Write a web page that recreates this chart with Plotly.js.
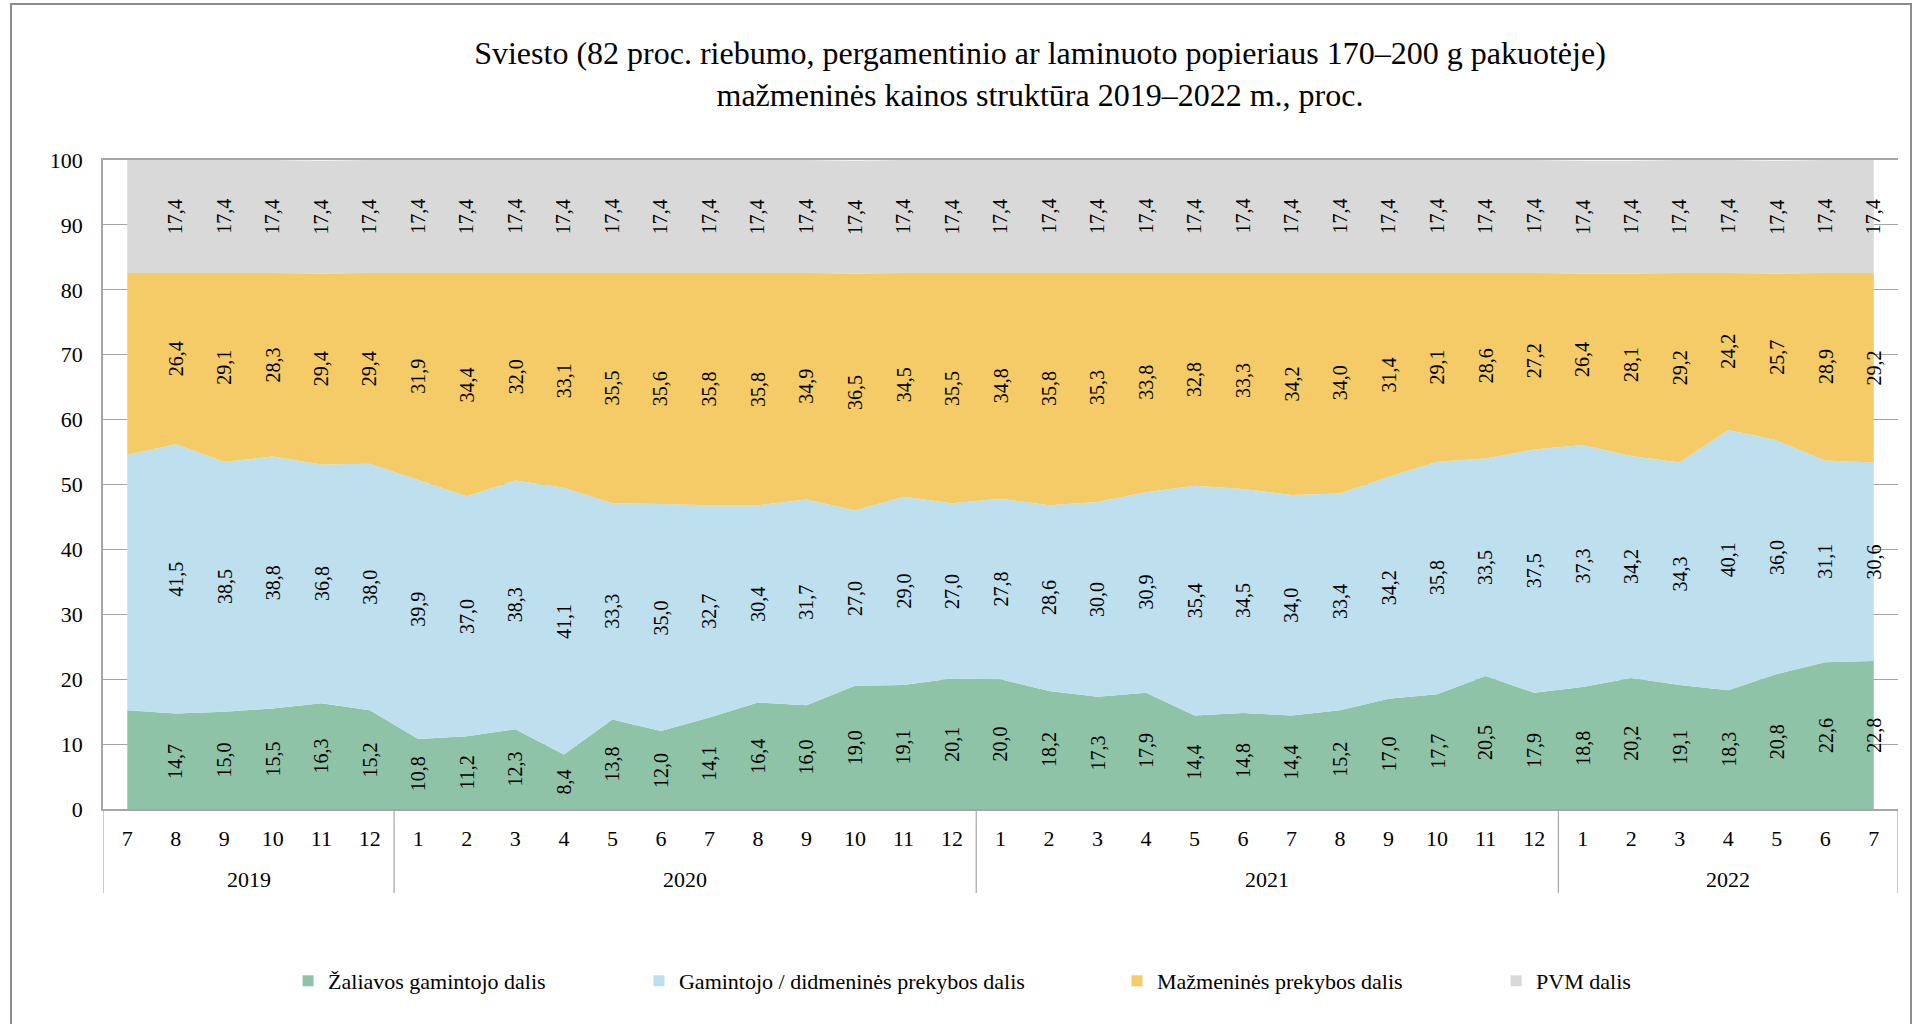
<!DOCTYPE html>
<html><head><meta charset="utf-8">
<script src="https://cdn.plot.ly/plotly-3.0.1.min.js"></script>
<style>html,body{margin:0;padding:0;background:#fff;}</style>
</head><body>
<div id="chart" style="width:1919px;height:1024px;"></div>
<script>
// Category labels (year, month)
const years = ['2019','2019','2019','2019','2019','2019',
  '2020','2020','2020','2020','2020','2020','2020','2020','2020','2020','2020','2020',
  '2021','2021','2021','2021','2021','2021','2021','2021','2021','2021','2021','2021',
  '2022','2022','2022','2022','2022','2022','2022'];
const months = ['7','8','9','10','11','12',
  '1','2','3','4','5','6','7','8','9','10','11','12',
  '1','2','3','4','5','6','7','8','9','10','11','12',
  '1','2','3','4','5','6','7'];

// Series values, %
const zaliavos = [15.2,14.7,15.0,15.5,16.3,15.2,
  10.8,11.2,12.3,8.4,13.8,12.0,14.1,16.4,16.0,19.0,19.1,20.1,
  20.0,18.2,17.3,17.9,14.4,14.8,14.4,15.2,17.0,17.7,20.5,17.9,
  18.8,20.2,19.1,18.3,20.8,22.6,22.8];
const gamintojo = [39.4,41.5,38.5,38.8,36.8,38.0,
  39.9,37.0,38.3,41.1,33.3,35.0,32.7,30.4,31.7,27.0,29.0,27.0,
  27.8,28.6,30.0,30.9,35.4,34.5,34.0,33.4,34.2,35.8,33.5,37.5,
  37.3,34.2,34.3,40.1,36.0,31.1,30.6];
const mazmenines = [28.0,26.4,29.1,28.3,29.4,29.4,
  31.9,34.4,32.0,33.1,35.5,35.6,35.8,35.8,34.9,36.5,34.5,35.5,
  34.8,35.8,35.3,33.8,32.8,33.3,34.2,34.0,31.4,29.1,28.6,27.2,
  26.4,28.1,29.2,24.2,25.7,28.9,29.2];
const pvm = [17.4,17.4,17.4,17.4,17.4,17.4,
  17.4,17.4,17.4,17.4,17.4,17.4,17.4,17.4,17.4,17.4,17.4,17.4,
  17.4,17.4,17.4,17.4,17.4,17.4,17.4,17.4,17.4,17.4,17.4,17.4,
  17.4,17.4,17.4,17.4,17.4,17.4,17.4];

const seriesNames = ['Žaliavos gamintojo dalis','Gamintojo / didmeninės prekybos dalis','Mažmeninės prekybos dalis','PVM dalis'];
const titleText = 'Sviesto (82 proc. riebumo, pergamentinio ar laminuoto popieriaus 170–200 g pakuotėje)<br>mažmeninės kainos struktūra 2019–2022 m., proc.';

const seriesValues = [zaliavos, gamintojo, mazmenines, pvm];
const colors = ['#8FC3A8','#BDDFEE','#F4CB67','#D9D9D9'];
const FONT = 'Liberation Serif, Times New Roman, serif';
const GRID = '#a6a6a6';
const legendIds = ['legend','legend2','legend3','legend4'];

const n = months.length;
const xcat = months.map((m, i) => years[i] + '/' + m);

const traces = [];
seriesValues.forEach((vals, k) => {
  traces.push({
    type: 'scatter', x: xcat, y: vals, name: seriesNames[k],
    stackgroup: 'one', mode: 'none', fillcolor: colors[k],
    line: {width: 0}, showlegend: false, hoverinfo: 'x+y+name'
  });
});
// legend swatches
seriesValues.forEach((vals, k) => {
  traces.push({
    type: 'scatter', x: [null], y: [null], name: seriesNames[k], mode: 'markers',
    marker: {symbol: 'square', size: 11, color: colors[k]},
    legend: legendIds[k], showlegend: true, hoverinfo: 'skip'
  });
});

// data labels (rotated) at middle of each stacked segment
const annotations = [];
for (let i = 1; i < n; i++) {
  let base = 0;
  seriesValues.forEach((vals) => {
    const v = vals[i];
    annotations.push({
      x: i, y: base + v / 2, xref: 'x', yref: 'y',
      text: v.toFixed(1).replace('.', ','), textangle: -90, showarrow: false,
      font: {family: FONT, size: 20, color: '#000'}
    });
    base += v;
  });
}

// year group labels and dividers
const shapes = [];
const DIV_Y = (809 - 893) / 649;
let start = 0;
for (let i = 1; i <= n; i++) {
  if (i === n || years[i] !== years[start]) {
    annotations.push({
      x: (start + i - 1) / 2, y: (809 - 879) / 649, xref: 'x', yref: 'paper',
      text: years[start], showarrow: false, yanchor: 'middle',
      font: {family: FONT, size: 22, color: '#000'}
    });
    shapes.push({type: 'line', xref: 'x', yref: 'paper', x0: start - 0.5, x1: start - 0.5, y0: 0, y1: DIV_Y,
      line: {color: GRID, width: 1.2}});
    start = i;
  }
}
shapes.push({type: 'line', xref: 'x', yref: 'paper', x0: n - 0.5, x1: n - 0.5, y0: 0, y1: DIV_Y,
  line: {color: GRID, width: 1.2}});
// outer chart border
shapes.push({type: 'rect', xref: 'paper', yref: 'paper', x0: (11-103)/1795, x1: (1911-103)/1795,
  y0: (809-1040)/649, y1: (809-4)/649, line: {color: '#8c8c8c', width: 2}, fillcolor: 'rgba(0,0,0,0)', layer: 'below'});

const legendX = [0.1031, 0.2986, 0.5649, 0.7761];
const layout = {
  width: 1919, height: 1024,
  paper_bgcolor: '#fff', plot_bgcolor: '#fff',
  margin: {l: 103, r: 21, t: 160, b: 215},
  font: {family: FONT, size: 22, color: '#000'},
  title: {text: titleText, x: 0.522, xref: 'paper', xanchor: 'center', y: 1 - 64/1024, yref: 'container', yanchor: 'top',
    font: {family: FONT, size: 32, color: '#000'}},
  xaxis: {type: 'category', range: [-0.5, n - 0.5], tickvals: xcat, ticktext: months,
    showline: true, linecolor: GRID, linewidth: 1.5, mirror: true, showgrid: false, zeroline: false, ticks: '',
    ticklabelstandoff: 9, tickangle: 0,
    tickfont: {family: FONT, size: 22, color: '#000'}, automargin: false},
  yaxis: {range: [0, 100], dtick: 10, tick0: 0, showgrid: true, gridcolor: GRID, gridwidth: 1.2, showline: true,
    linecolor: GRID, linewidth: 1.5, zeroline: false, ticks: '', ticklabelstandoff: 14,
    tickfont: {family: FONT, size: 22, color: '#000'}, automargin: false},
  annotations: annotations,
  shapes: shapes,
  hovermode: 'closest'
};
legendIds.forEach((id, k) => {
  layout[id] = {orientation: 'h', x: legendX[k], xanchor: 'left', y: -0.265, yanchor: 'middle',
    bgcolor: 'rgba(0,0,0,0)', font: {family: FONT, size: 22, color: '#000'}};
});

Plotly.newPlot('chart', traces, layout, {displayModeBar: false, responsive: false});
</script>
</body></html>
